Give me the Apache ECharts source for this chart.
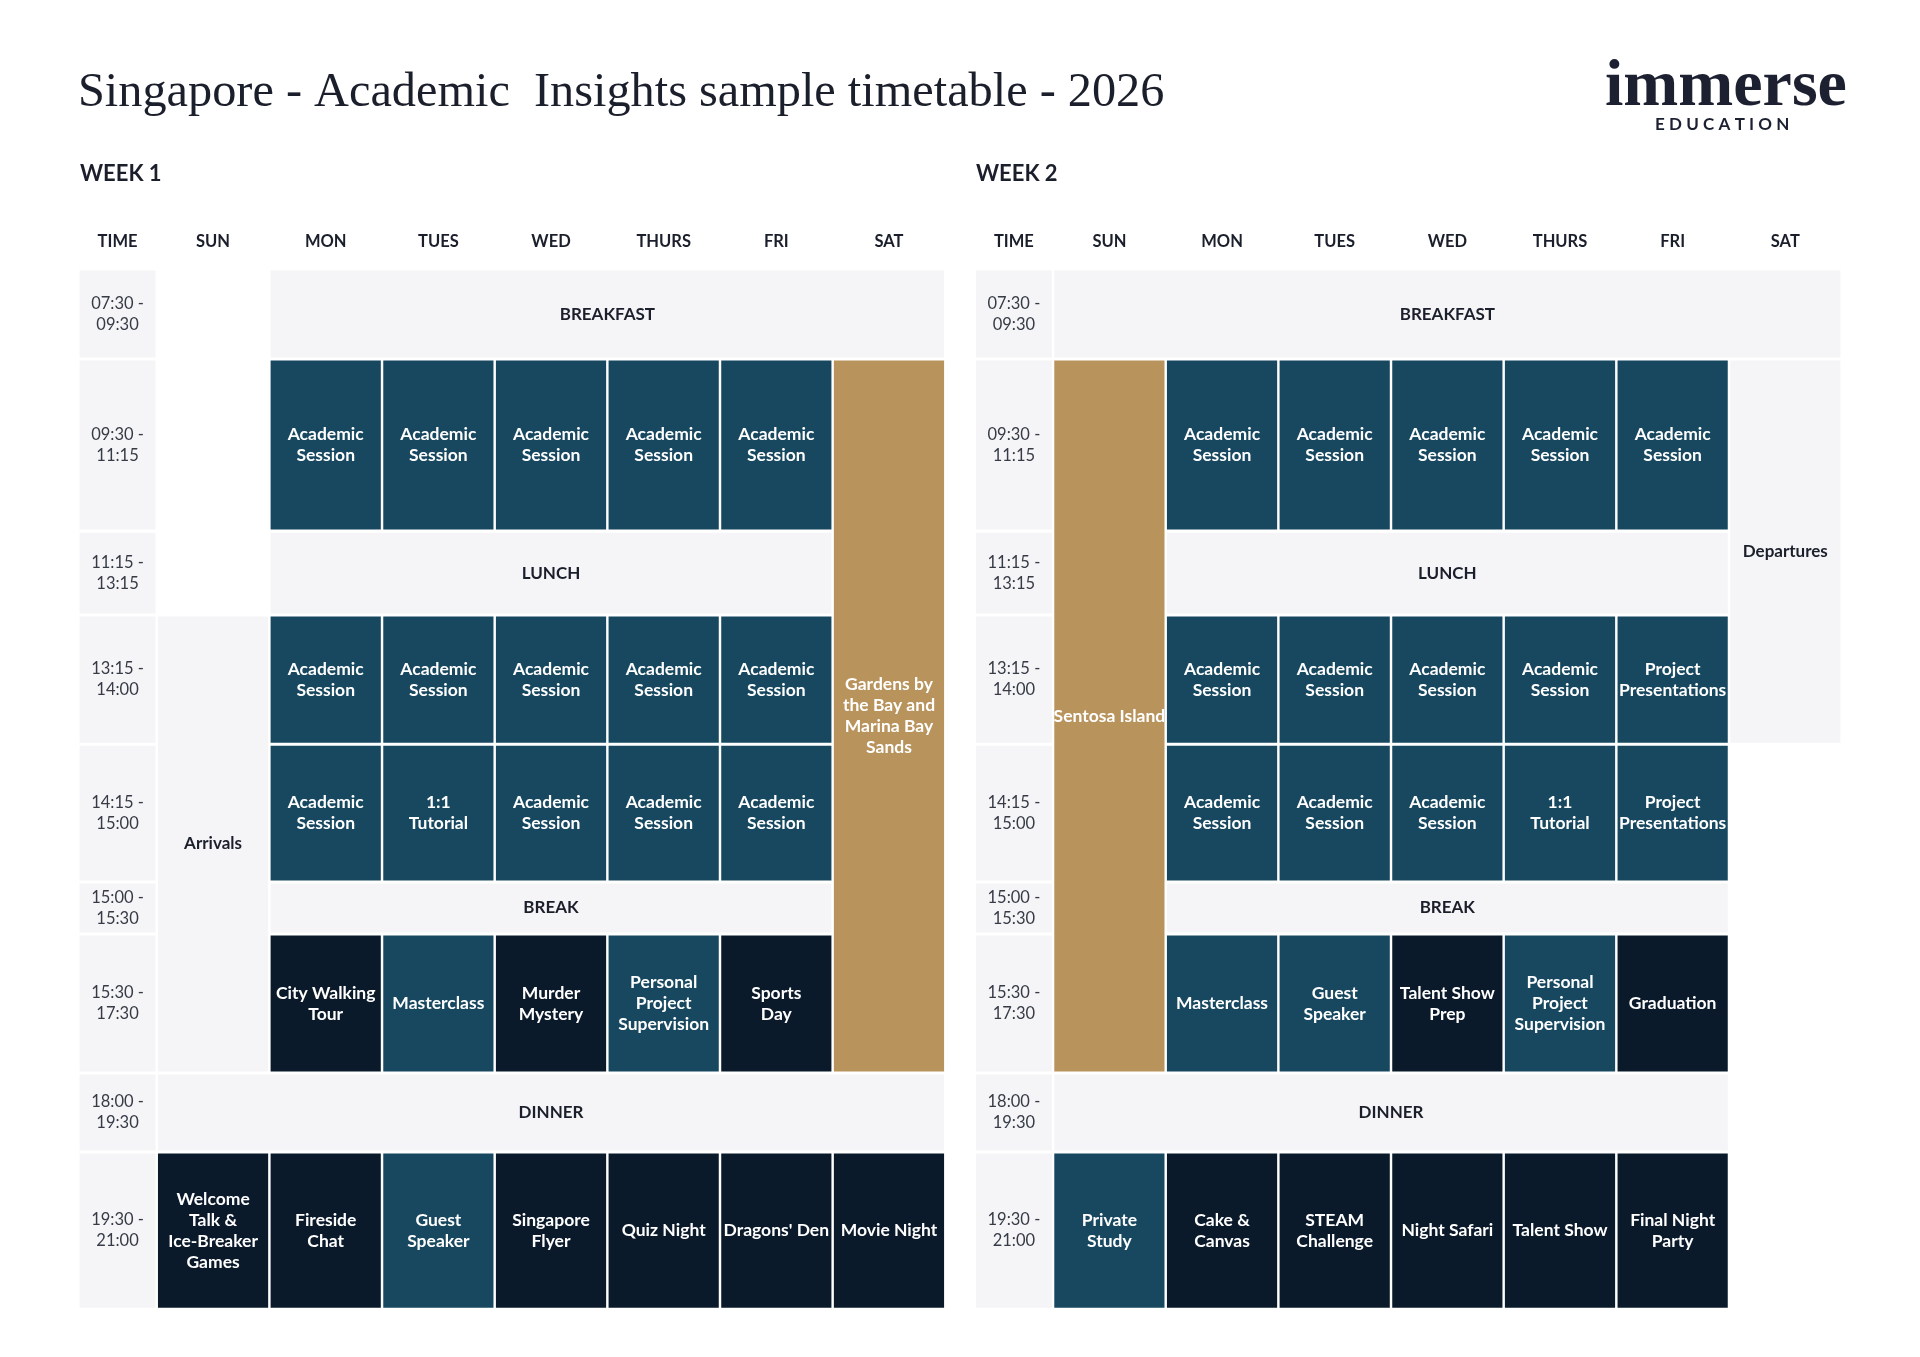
<!DOCTYPE html>
<html><head><meta charset="utf-8">
<script src="https://cdn.jsdelivr.net/npm/echarts@6/dist/echarts.min.js"></script>
<style>html,body{margin:0;padding:0;background:#fff}#c{width:1920px;height:1357px}</style>
</head><body><div id="c"></div>
<script>
// ---------- DATA ----------
const columns = ['TIME','SUN','MON','TUES','WED','THURS','FRI','SAT'];
const timeSlots = ['07:30 -\n09:30','09:30 -\n11:15','11:15 -\n13:15','13:15 -\n14:00','14:15 -\n15:00','15:00 -\n15:30','15:30 -\n17:30','18:00 -\n19:30','19:30 -\n21:00'];
const weekTitles = ['WEEK 1','WEEK 2'];
// [firstCol, lastCol, firstSlot, lastSlot, label, kind]   cols: 1=SUN ... 7=SAT
const week1Events = [
  [2,7,0,0,'BREAKFAST','meal'],
  [2,2,1,1,'Academic\nSession','teal'],[3,3,1,1,'Academic\nSession','teal'],[4,4,1,1,'Academic\nSession','teal'],[5,5,1,1,'Academic\nSession','teal'],[6,6,1,1,'Academic\nSession','teal'],
  [7,7,1,6,'Gardens by\nthe Bay and\nMarina Bay\nSands','gold'],
  [2,6,2,2,'LUNCH','meal'],
  [1,1,3,6,'Arrivals','soft'],
  [2,2,3,3,'Academic\nSession','teal'],[3,3,3,3,'Academic\nSession','teal'],[4,4,3,3,'Academic\nSession','teal'],[5,5,3,3,'Academic\nSession','teal'],[6,6,3,3,'Academic\nSession','teal'],
  [2,2,4,4,'Academic\nSession','teal'],[3,3,4,4,'1:1\nTutorial','teal'],[4,4,4,4,'Academic\nSession','teal'],[5,5,4,4,'Academic\nSession','teal'],[6,6,4,4,'Academic\nSession','teal'],
  [2,6,5,5,'BREAK','meal'],
  [2,2,6,6,'City Walking\nTour','navy'],[3,3,6,6,'Masterclass','teal'],[4,4,6,6,'Murder\nMystery','navy'],[5,5,6,6,'Personal\nProject\nSupervision','teal'],[6,6,6,6,'Sports\nDay','navy'],
  [1,7,7,7,'DINNER','meal'],
  [1,1,8,8,'Welcome\nTalk &\nIce-Breaker\nGames','navy'],[2,2,8,8,'Fireside\nChat','navy'],[3,3,8,8,'Guest\nSpeaker','teal'],[4,4,8,8,'Singapore\nFlyer','navy'],[5,5,8,8,'Quiz Night','navy'],[6,6,8,8,"Dragons' Den",'navy'],[7,7,8,8,'Movie Night','navy']
];
const week2Events = [
  [1,7,0,0,'BREAKFAST','meal'],
  [1,1,1,6,'Sentosa Island','gold'],
  [2,2,1,1,'Academic\nSession','teal'],[3,3,1,1,'Academic\nSession','teal'],[4,4,1,1,'Academic\nSession','teal'],[5,5,1,1,'Academic\nSession','teal'],[6,6,1,1,'Academic\nSession','teal'],
  [7,7,1,3,'Departures','soft'],
  [2,6,2,2,'LUNCH','meal'],
  [2,2,3,3,'Academic\nSession','teal'],[3,3,3,3,'Academic\nSession','teal'],[4,4,3,3,'Academic\nSession','teal'],[5,5,3,3,'Academic\nSession','teal'],[6,6,3,3,'Project\nPresentations','teal'],
  [2,2,4,4,'Academic\nSession','teal'],[3,3,4,4,'Academic\nSession','teal'],[4,4,4,4,'Academic\nSession','teal'],[5,5,4,4,'1:1\nTutorial','teal'],[6,6,4,4,'Project\nPresentations','teal'],
  [2,6,5,5,'BREAK','meal'],
  [2,2,6,6,'Masterclass','teal'],[3,3,6,6,'Guest\nSpeaker','teal'],[4,4,6,6,'Talent Show\nPrep','navy'],[5,5,6,6,'Personal\nProject\nSupervision','teal'],[6,6,6,6,'Graduation','navy'],
  [1,6,7,7,'DINNER','meal'],
  [1,1,8,8,'Private\nStudy','teal'],[2,2,8,8,'Cake &\nCanvas','navy'],[3,3,8,8,'STEAM\nChallenge','navy'],[4,4,8,8,'Night Safari','navy'],[5,5,8,8,'Talent Show','navy'],[6,6,8,8,'Final Night\nParty','navy']
];

// ---------- LAYOUT (design units) ----------
const S = 1920 / 1568;
const COL_TIME = 62, COL_DAY = 90, COL_GAP = 2;
const ROW_H = [71,138,66,103,110,40,111,62,126], ROW_GAP = 2.5;
const HEADER_Y = -24;
const X_TOTAL = COL_TIME + COL_GAP + 7 * (COL_DAY + COL_GAP) - COL_GAP;
const rowStarts = []; let acc = 0;
ROW_H.forEach((h, i) => { rowStarts.push(acc); acc += h + ROW_GAP; });
const Y_TOTAL = acc - ROW_GAP;
const colStart = c => c === 0 ? 0 : COL_TIME + COL_GAP + (c - 1) * (COL_DAY + COL_GAP);
const colEnd = c => c === 0 ? COL_TIME : colStart(c) + COL_DAY;
const rowStart = r => rowStarts[r];
const rowEnd = r => rowStarts[r] + ROW_H[r];

const C = {
  gray: '#f5f5f7', teal: '#174860', navy: '#0b1a2b', gold: '#b8935c',
  ink: '#1b1f2b', time: '#363b46', white: '#ffffff'
};
const FONT = 'Lato, "Noto Sans", sans-serif';

function buildItems(events) {
  const items = [];
  columns.forEach((name, c) => items.push({ c0: c, c1: c, r0: -1, r1: -1, label: name, kind: 'head' }));
  timeSlots.forEach((t, r) => items.push({ c0: 0, c1: 0, r0: r, r1: r, label: t, kind: 'time' }));
  events.forEach(e => items.push({ c0: e[0], c1: e[1], r0: e[2], r1: e[3], label: e[4], kind: e[5] }));
  return items;
}

function makeRender(items) {
  return function (params, api) {
    const it = items[params.dataIndex];
    const x0 = colStart(it.c0), x1 = colEnd(it.c1);
    if (it.kind === 'head') {
      const p = api.coord([(x0 + x1) / 2, HEADER_Y]);
      return { type: 'text', style: { text: it.label, x: p[0], y: p[1], align: 'center', verticalAlign: 'middle',
        fill: C.ink, fontFamily: FONT, fontWeight: 700, fontSize: 16.5 } };
    }
    const p0 = api.coord([x0, rowStart(it.r0)]);
    const p1 = api.coord([x1, rowEnd(it.r1)]);
    const w = p1[0] - p0[0], h = p1[1] - p0[1];
    let bg = C.gray, fill = C.white, weight = 700, size = 17.5;
    if (it.kind === 'teal') bg = C.teal;
    else if (it.kind === 'navy') bg = C.navy;
    else if (it.kind === 'gold') bg = C.gold;
    else if (it.kind === 'time') { fill = C.time; weight = 400; size = 16.5; }
    else { fill = C.ink; size = 17; }
    return {
      type: 'group',
      children: [
        { type: 'rect', shape: { x: p0[0], y: p0[1], width: w, height: h }, style: { fill: bg } },
        { type: 'text', style: { text: it.label, x: p0[0] + w / 2, y: p0[1] + h / 2, align: 'center', verticalAlign: 'middle',
          fill: fill, fontFamily: FONT, fontWeight: weight, fontSize: size, lineHeight: 21 } }
      ]
    };
  };
}

const weeks = [week1Events, week2Events];
const gridLefts = [65, 797];
const grids = [], xAxes = [], yAxes = [], series = [];
weeks.forEach((ev, i) => {
  grids.push({ left: gridLefts[i] * S, top: 221 * S, width: X_TOTAL * S, height: Y_TOTAL * S });
  xAxes.push({ type: 'value', gridIndex: i, min: 0, max: X_TOTAL, show: false });
  yAxes.push({ type: 'value', gridIndex: i, min: 0, max: Y_TOTAL, inverse: true, show: false });
  const items = buildItems(ev);
  series.push({
    type: 'custom', xAxisIndex: i, yAxisIndex: i, clip: false,
    renderItem: makeRender(items),
    data: items.map(it => [colStart(it.c0), it.r0]),
    silent: true, animation: false
  });
});

const chart = echarts.init(document.getElementById('c'), null, { renderer: 'canvas' });
chart.setOption({
  backgroundColor: '#ffffff',
  animation: false,
  grid: grids, xAxis: xAxes, yAxis: yAxes, series: series,
  graphic: [
    { type: 'text', left: 78, top: 69, style: { text: 'Singapore - Academic  Insights sample timetable - 2026',
      fill: '#1b1f2b', fontFamily: '"Liberation Serif", "DejaVu Serif", serif', fontSize: 48.3, fontWeight: 400 } },
    { type: 'text', left: 1605, top: 55, style: { text: 'immerse', fill: '#1c2030',
      fontFamily: '"Liberation Serif", serif', fontSize: 66, fontWeight: 700 } },
    { type: 'text', left: 1655, top: 116, style: { text: 'E\u2009\u2009D\u2009\u2009U\u2009\u2009C\u2009\u2009A\u2009\u2009T\u2009\u2009I\u2009\u2009O\u2009\u2009N', fill: '#1c2030',
      fontFamily: FONT, fontSize: 17, fontWeight: 700 } },
    { type: 'text', left: 80, top: 163, style: { text: weekTitles[0], fill: '#1b1f2b', fontFamily: FONT, fontSize: 22, fontWeight: 700 } },
    { type: 'text', left: 976, top: 163, style: { text: weekTitles[1], fill: '#1b1f2b', fontFamily: FONT, fontSize: 22, fontWeight: 700 } }
  ]
});
</script></body></html>
